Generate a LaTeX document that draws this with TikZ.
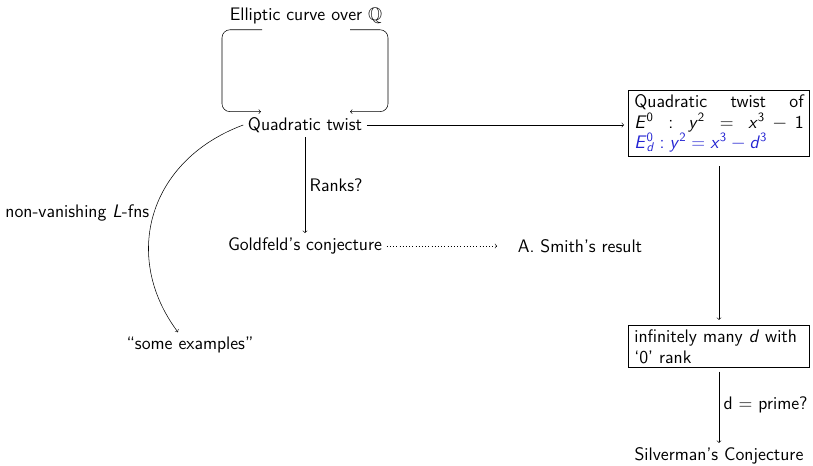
\documentclass[tikz,border=0pt]{standalone}
\usepackage{amssymb}
\usetikzlibrary{calc}
\definecolor{tb}{RGB}{35,35,210}
\newcommand\mi[1]{\textit{#1}}
\newcommand\rel[1]{\hspace{0.28em plus 1fill}#1\hspace{0.28em plus 1fill}}
\newcommand\bin[1]{\hspace{0.22em plus 0.35fill}#1\hspace{0.22em plus 0.35fill}}
\newcommand\relt[1]{\hspace{0.28em}#1\hspace{0.28em}}
\newcommand\bint[1]{\hspace{0.22em}#1\hspace{0.22em}}
\begin{document}
\begin{tikzpicture}[x=0.75pt,y=-0.75pt,>=to,
  lbl/.style={font=\sffamily\fontsize{13.6}{15.5}\selectfont},
  every node/.style={lbl},
  box/.style={draw, text width=127pt, inner xsep=4.5pt, inner ysep=3pt},
  link/.style={->}]
\useasboundingbox (0,0) rectangle (813,466);
\node (ec) at (306,16) {Elliptic curve over $\mathbb{Q}$};
\node (qt) at (305,125) {Quadratic twist};
\node[box] (tw) at (719,123.5) {Quadratic\hfill twist\hfill of\\
  \mi{E}\textsuperscript{0}\rel{:}\mi{y}\textsuperscript{2}\rel{=}\mi{x}\textsuperscript{3}\bin{$-$}1\\
  \color{tb}\mi{E}\rlap{\textsuperscript{0}}\textsubscript{\mi{d}}\relt{:}\mi{y}\textsuperscript{2}\relt{=}\mi{x}\textsuperscript{3}\bint{$-$}\mi{d}\textsuperscript{3}};
\node (gc) at (305,246) {Goldfeld's conjecture};
\node (as) at (580,246) {A. Smith's result};
\node (se) at (190,345) {``some examples''};
\node[box, align=left] (inf) at (719,346.5) {infinitely many \mi{d} with\\ `0' rank};
\node (sc) at (719,456) {Silverman's Conjecture};

\draw[link, rounded corners=6pt] ($(ec.south)+(-44,1)$) -| ($(qt.north)+(-83,-1)$) -- ($(qt.north)+(-44,-1)$);
\draw[link, rounded corners=6pt] ($(ec.south)+(44,1)$) -| ($(qt.north)+(83,-1)$) -- ($(qt.north)+(45,-1)$);
\draw[link, shorten >=3pt] (qt.east) -- (qt.east -| tw.west);
\draw[link] (qt) -- node[right] {Ranks?} (gc);
\draw[link, dotted, shorten >=12pt] (gc) -- (as);
\draw[link] (qt.west) .. controls (149,160) and (121,256) .. node[pos=0.5, anchor=east] {non-vanishing \mi{L}-fns} ($(se.north)+(-12,0)$);
\draw[link, shorten <=7pt, shorten >=4pt] (tw) -- (inf);
\draw[link, shorten <=3pt] (inf) -- node[right] {d = prime?} (sc);
\end{tikzpicture}
\end{document}
